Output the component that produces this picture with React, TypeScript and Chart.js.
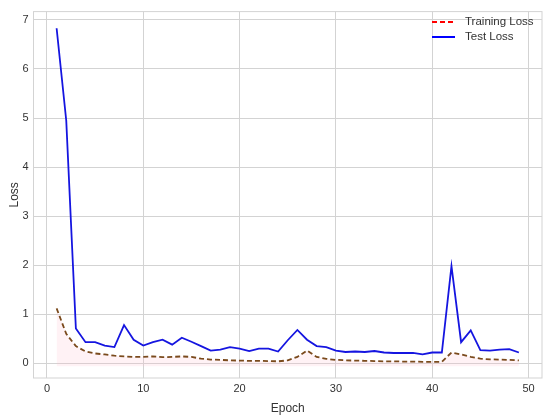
import React, { useEffect, useRef } from 'react';
import { Chart, registerables } from 'chart.js';
Chart.register(...registerables);

const epochs = [1, 2, 3, 4, 5, 6, 7, 8, 9, 10, 11, 12, 13, 14, 15, 16, 17, 18, 19, 20, 21, 22, 23, 24, 25, 26, 27, 28, 29, 30, 31, 32, 33, 34, 35, 36, 37, 38, 39, 40, 41, 42, 43, 44, 45, 46, 47, 48, 49];
const trainLoss = [1.12, 0.60, 0.35, 0.24, 0.20, 0.18, 0.155, 0.14, 0.13, 0.13, 0.14, 0.125, 0.13, 0.14, 0.13, 0.095, 0.075, 0.07, 0.06, 0.055, 0.05, 0.05, 0.045, 0.04, 0.06, 0.13, 0.26, 0.13, 0.09, 0.07, 0.06, 0.055, 0.05, 0.045, 0.04, 0.04, 0.035, 0.035, 0.03, 0.03, 0.03, 0.22, 0.18, 0.13, 0.095, 0.08, 0.075, 0.07, 0.06];
const testLoss = [6.83, 4.95, 0.71, 0.43, 0.43, 0.36, 0.33, 0.78, 0.48, 0.36, 0.43, 0.48, 0.38, 0.52, 0.44, 0.35, 0.26, 0.28, 0.33, 0.30, 0.25, 0.30, 0.30, 0.24, 0.47, 0.68, 0.48, 0.35, 0.33, 0.26, 0.23, 0.24, 0.23, 0.25, 0.22, 0.21, 0.21, 0.21, 0.18, 0.22, 0.22, 1.98, 0.43, 0.67, 0.27, 0.26, 0.28, 0.29, 0.22];
const xTicks = [0, 10, 20, 30, 40, 50];
const yTicks = [0, 1, 2, 3, 4, 5, 6, 7];
const seriesNames = ['Training Loss', 'Test Loss'];

const FONT = "'Liberation Sans', Arial, sans-serif";
const GRID = '#d3d3d3';
const TEXT = '#333333';

export default function App() {
  const ref = useRef<HTMLCanvasElement | null>(null);
  useEffect(() => {
    if (!ref.current) return;
    const framePlugin = {
      id: 'frame',
      beforeDatasetsDraw(chart: any) {
        const { ctx, chartArea: a } = chart;
        ctx.save();
        ctx.strokeStyle = GRID;
        ctx.lineWidth = 1;
        ctx.strokeRect(a.left, a.top, a.right - a.left, a.bottom - a.top);
        ctx.restore();
      },
    };
    const legendPlugin = {
      id: 'customLegend',
      afterDraw(chart: any) {
        const { ctx } = chart;
        ctx.save();
        const items = [
          { label: seriesNames[0], color: '#ff0000', dash: [5, 3], y: 22 },
          { label: seriesNames[1], color: '#0000ff', dash: [], y: 37 },
        ];
        items.forEach((it) => {
          ctx.strokeStyle = it.color;
          ctx.lineWidth = 2;
          ctx.setLineDash(it.dash);
          ctx.beginPath();
          ctx.moveTo(432, it.y);
          ctx.lineTo(455, it.y);
          ctx.stroke();
          ctx.setLineDash([]);
          ctx.fillStyle = TEXT;
          ctx.font = `11.5px ${FONT}`;
          ctx.textBaseline = 'middle';
          ctx.textAlign = 'left';
          ctx.fillText(it.label, 465, it.y);
        });
        ctx.restore();
      },
    };
    const chart = new Chart(ref.current, {
      type: 'line',
      data: {
        datasets: [
          {
            label: seriesNames[0],
            data: epochs.map((e, i) => ({ x: e, y: trainLoss[i] })),
            borderColor: '#7a4a1c',
            borderWidth: 1.8,
            borderDash: [5, 3],
            pointRadius: 0,
            fill: { target: { value: -0.06 } },
            backgroundColor: 'rgba(255, 182, 200, 0.18)',
            tension: 0,
          },
          {
            label: seriesNames[1],
            data: epochs.map((e, i) => ({ x: e, y: testLoss[i] })),
            borderColor: '#1515e0',
            borderWidth: 1.8,
            pointRadius: 0,
            fill: false,
            tension: 0,
          },
        ],
      },
      options: {
        responsive: false,
        animation: false,
        layout: { padding: { left: 0, right: 8, top: 7, bottom: 0 } },
        plugins: { legend: { display: false }, tooltip: { enabled: false } },
        scales: {
          x: {
            type: 'linear',
            min: -1.4,
            max: 51.4,
            afterBuildTicks: (s: any) => { s.ticks = xTicks.map((v) => ({ value: v })); },
            afterFit: (s: any) => { s.height = 38; },
            grid: { color: GRID, drawTicks: false },
            border: { display: false },
            ticks: { color: TEXT, font: { family: FONT, size: 11 }, padding: 4, maxRotation: 0 },
            title: { display: true, text: 'Epoch', color: TEXT, font: { family: FONT, size: 12 }, padding: { top: 0, bottom: 0 } },
          },
          y: {
            min: -0.3,
            max: 7.17,
            afterBuildTicks: (s: any) => { s.ticks = yTicks.map((v) => ({ value: v })); },
            afterFit: (s: any) => { s.width = 33.5; },
            grid: { color: GRID, drawTicks: false },
            border: { display: false },
            ticks: { color: TEXT, font: { family: FONT, size: 11 }, padding: 5 },
            title: { display: true, text: 'Loss', color: TEXT, font: { family: FONT, size: 12 }, padding: { top: 7, bottom: 0 } },
          },
        },
      },
      plugins: [framePlugin, legendPlugin],
    });
    return () => chart.destroy();
  }, []);
  return (
    <div style={{ position: 'absolute', left: 0, top: 0, width: 550, height: 416, background: '#fff' }}>
      <canvas ref={ref} width={550} height={416} />
    </div>
  );
}
